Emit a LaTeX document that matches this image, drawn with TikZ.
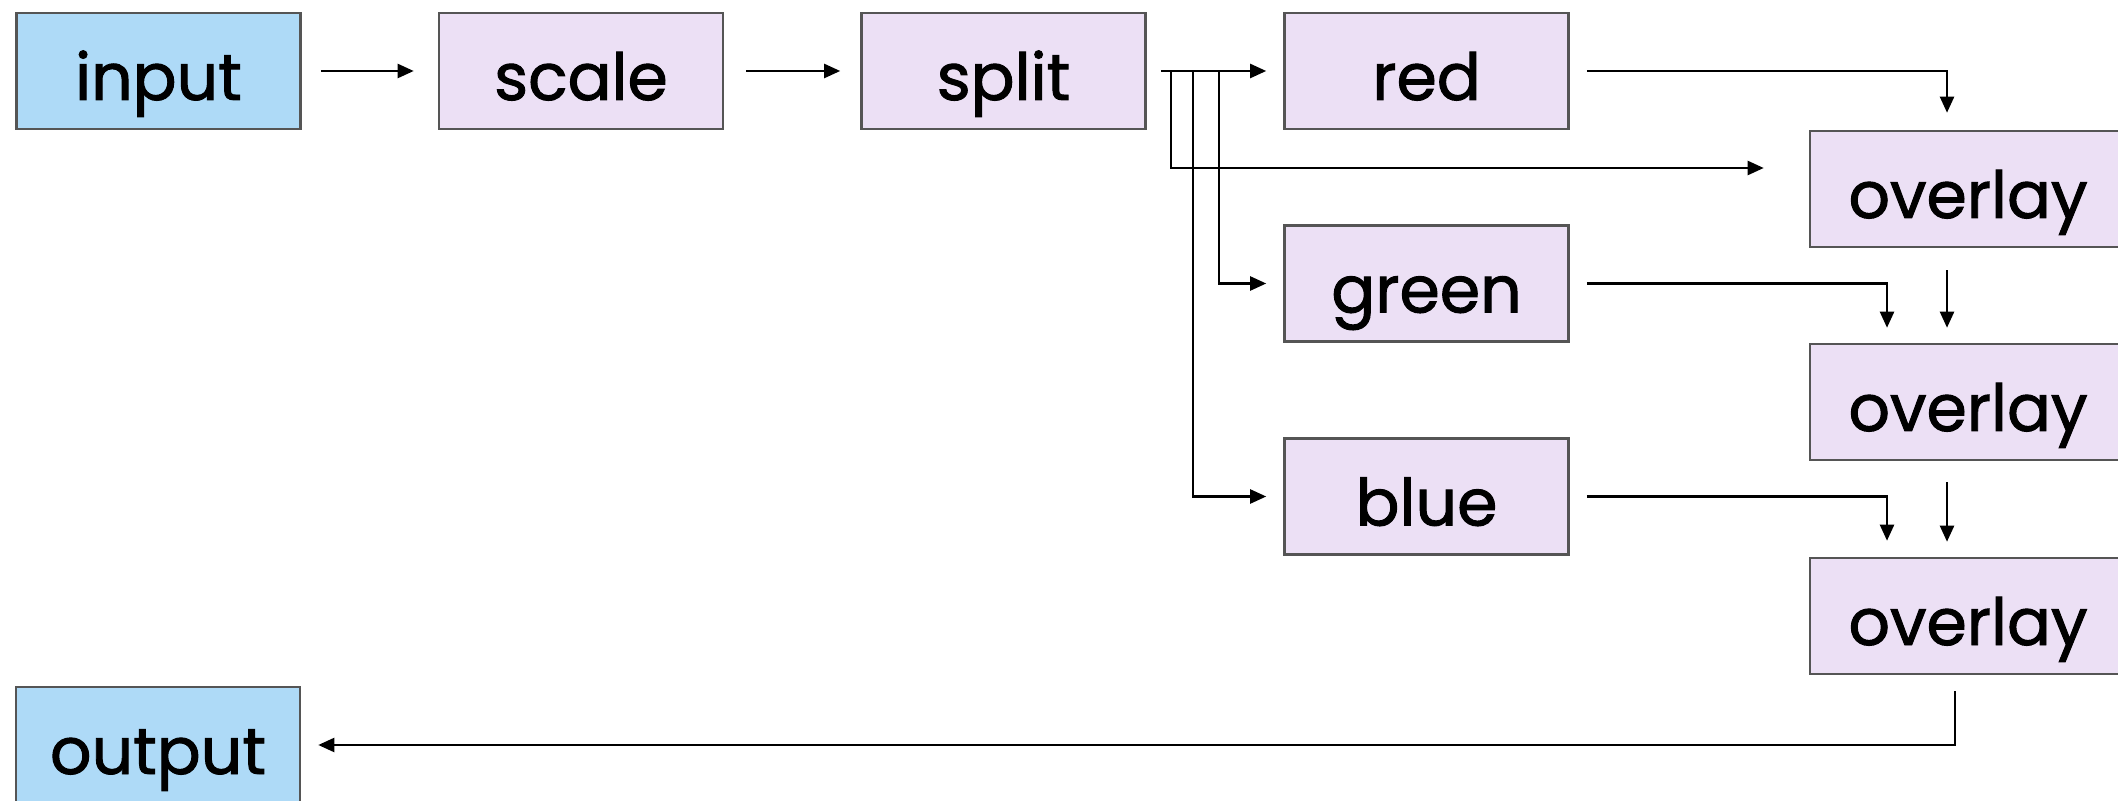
\documentclass[tikz,border=0pt]{standalone}
\usepackage{fontspec}
\setmainfont[FakeBold=1.5]{Poppins}
\usetikzlibrary{arrows.meta}
\definecolor{ioblue}{HTML}{AEDAF7}
\definecolor{oplav}{HTML}{ECE0F5}
\definecolor{edgegray}{HTML}{555555}
\tikzset{
  box/.style={draw=edgegray, line width=1.3pt, minimum width=142pt, minimum height=58pt,
    inner sep=0pt, text height=29pt, text depth=0pt, font=\fontsize{32.5}{32.5}\selectfont},
  iobox/.style={box, fill=ioblue},
  opbox/.style={box, fill=oplav},
  ovbox/.style={opbox, minimum width=158pt},
  conn/.style={line width=1.15pt, -{Triangle[length=8pt,width=7pt]}},
}
\begin{document}
\begin{tikzpicture}[x=0.5pt,y=-0.5pt]
\useasboundingbox (0,0) rectangle (2118,801);
\clip (0,0) rectangle (2118,801);
\node[iobox] (input) at (158.5,71) {input};
\node[opbox] (scale) at (581,71) {scale};
\node[opbox] (split) at (1003.5,71) {split};
\node[opbox] (red) at (1426.5,71) {red};
\node[opbox] (green) at (1426.5,283.5) {green};
\node[opbox] (blue) at (1426.5,496.5) {blue};
\node[ovbox] (ov1) at (1968,189) {overlay};
\node[ovbox] (ov2) at (1968,402) {overlay};
\node[ovbox] (ov3) at (1968,616) {overlay};
\node[iobox] (output) at (158,745) {output};

\draw[conn, shorten <=9.5pt, shorten >=12pt] (input.east) -- (scale.west);
\draw[conn, shorten <=11pt, shorten >=10pt] (scale.east) -- (split.west);
\draw[conn, shorten <=7pt, shorten >=8.5pt] (split.east) -- (red.west);
\draw[conn, shorten >=22.5pt] ([xshift=12pt]split.east) |- ([yshift=10.5pt]ov1.west);
\draw[conn, shorten >=8.5pt] ([xshift=36pt]split.east) |- (green.west);
\draw[conn, shorten >=8.5pt] ([xshift=23pt]split.east) |- (blue.west);
\draw[conn, shorten <=8.5pt, shorten >=8.5pt] (red.east) -| ([xshift=-10.5pt]ov1.north);
\draw[conn, shorten <=8.5pt, shorten >=7.5pt] (green.east) -| ([xshift=-40.5pt]ov2.north);
\draw[conn, shorten <=8.5pt, shorten >=8pt] (blue.east) -| ([xshift=-40.5pt]ov3.north);
\draw[conn, shorten <=11pt, shorten >=7.5pt] ([xshift=-10.5pt]ov1.south) -- ([xshift=-10.5pt]ov2.north);
\draw[conn, shorten <=10.5pt, shorten >=7.5pt] ([xshift=-10.5pt]ov2.south) -- ([xshift=-10.5pt]ov3.north);
\draw[conn, shorten <=8pt, shorten >=8.5pt] ([xshift=-6.5pt]ov3.south) |- (output.east);
\end{tikzpicture}
\end{document}
